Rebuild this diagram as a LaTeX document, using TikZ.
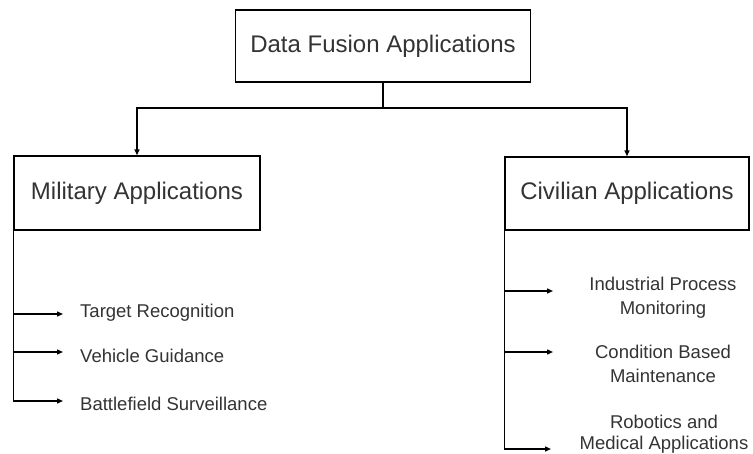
\documentclass[tikz,border=0pt]{standalone}
\usepackage{fontspec}
\setmainfont{Liberation Sans}
\usetikzlibrary{arrows.meta}
\begin{document}
\begin{tikzpicture}[x=1pt,y=-1pt,
  box/.style={draw, line width=1.4pt, inner sep=0pt, font=\fontsize{24}{28}\selectfont, text=black!80},
  conn/.style={line width=1.4pt},
  arr/.style={conn, -{Triangle[length=6pt,width=5pt]}},
  item/.style={font=\fontsize{18.5}{24}\selectfont, text=black!80, inner sep=0pt}]
\useasboundingbox (0,0) rectangle (753,453);
\node[box, minimum width=295pt, minimum height=72pt] (top) at (383,46) {Data Fusion Applications};
\node[box, minimum width=246pt, minimum height=74pt] (mil) at (137,193) {Military Applications};
\node[box, minimum width=244pt, minimum height=73pt] (civ) at (627,193.5) {Civilian Applications};
% top connectors
\coordinate (jm) at (383,108);
\draw[conn] (top.south) -- (jm);
\draw[arr] (jm) -| (mil.north);
\draw[arr] (jm) -| (civ.north);
% military items
\coordinate (t1) at (63,314);
\coordinate (t2) at (63,352);
\coordinate (t3) at (63,401);
\draw[arr] (mil.south west) |- (t3);
\draw[arr] (mil.south west |- t1) -- (t1);
\draw[arr] (mil.south west |- t2) -- (t2);
\node[item, anchor=base west] (tr) at (80,317) {Target Recognition};
\node[item, anchor=base west] (vg) at (80,362) {Vehicle Guidance};
\node[item, anchor=base west] (bs) at (80,410) {Battlefield Surveillance};
% civilian items
\coordinate (r1) at (553,291);
\coordinate (r2) at (553,352);
\coordinate (r3) at (551,449);
\draw[arr] (civ.south west) |- (r3);
\draw[arr] (civ.south west |- r1) -- (r1);
\draw[arr] (civ.south west |- r2) -- (r2);
\node[item, anchor=base, align=center] (ipm) at (663,314) {Industrial Process\\Monitoring};
\node[item, anchor=base, align=center] (cbm) at (663,382) {Condition Based\\Maintenance};
\node[item, anchor=base, align=center] (rma) at (664,449) {Robotics and\\[-3pt]Medical Applications};
\end{tikzpicture}
\end{document}
